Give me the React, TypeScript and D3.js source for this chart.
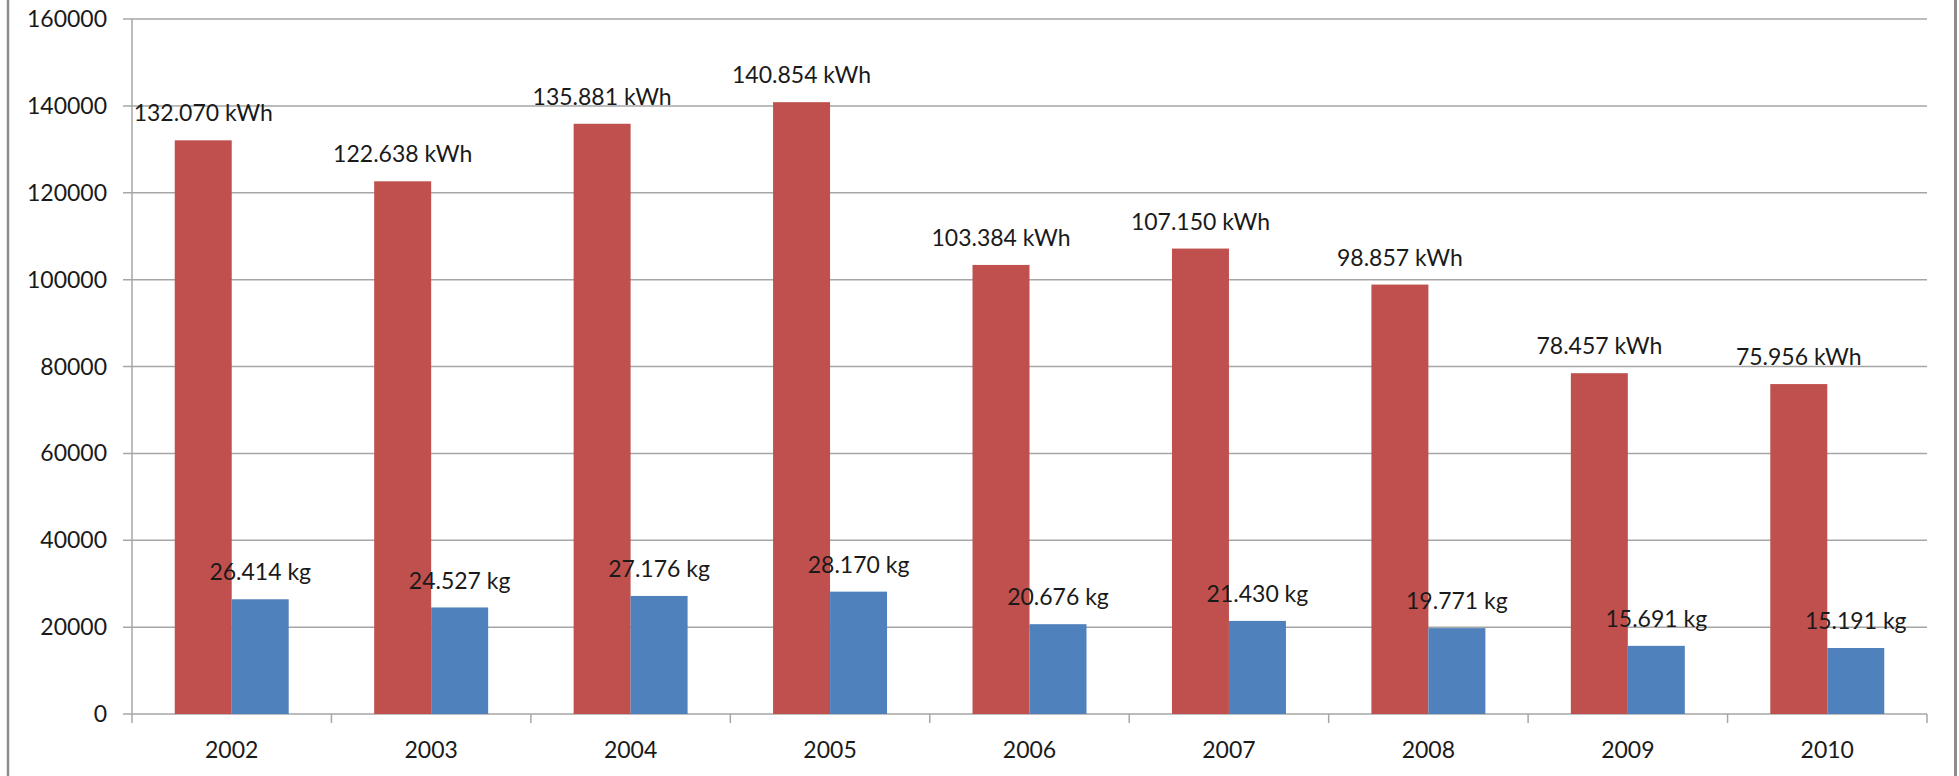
import React from "react";
import * as d3 from "d3";

const years = ["2002", "2003", "2004", "2005", "2006", "2007", "2008", "2009", "2010"];
const kwhValues = [132070, 122638, 135881, 140854, 103384, 107150, 98857, 78457, 75956];
const kgValues = [26414, 24527, 27176, 28170, 20676, 21430, 19771, 15691, 15191];
const kwhLabels = ["132.070 kWh", "122.638 kWh", "135.881 kWh", "140.854 kWh", "103.384 kWh", "107.150 kWh", "98.857 kWh", "78.457 kWh", "75.956 kWh"];
const kgLabels = ["26.414 kg", "24.527 kg", "27.176 kg", "28.170 kg", "20.676 kg", "21.430 kg", "19.771 kg", "15.691 kg", "15.191 kg"];
const yTicks = [0, 20000, 40000, 60000, 80000, 100000, 120000, 140000, 160000];
const seriesKeys = ["kwh", "kg"];
const seriesColors = ["#C0504D", "#4F81BD"];

const W = 1959;
const H = 776;
const left = 132;
const right = 1927;
const top = 19;
const bottom = 714;
const FONT = "Lato, 'Open Sans', sans-serif";

export default function App() {
  const x0 = d3.scaleBand<string>().domain(years).range([left, right]).padding(0);
  const bw = x0.bandwidth();
  const x1 = d3
    .scaleBand<string>()
    .domain(seriesKeys)
    .range([(bw * 0.75) / 3.5, (bw * 2.75) / 3.5])
    .padding(0);
  const y = d3.scaleLinear().domain([0, 160000]).range([bottom, top]);
  const series = [
    { key: "kwh", values: kwhValues, labels: kwhLabels, color: seriesColors[0] },
    { key: "kg", values: kgValues, labels: kgLabels, color: seriesColors[1] },
  ];
  const gridColor = "#A6A6A6";
  return (
    <svg
      width={W}
      height={H}
      style={{ position: "absolute", left: 0, top: 0, background: "#fff" }}
      fontFamily={FONT}
    >
      <rect x={0} y={0} width={W} height={H} fill="#fff" />
      {/* frame */}
      <line x1={8} x2={8} y1={0} y2={H} stroke="#8C8C8C" strokeWidth={2.5} />
      <line x1={1955.5} x2={1955.5} y1={0} y2={H} stroke="#8C8C8C" strokeWidth={3} />
      {/* gridlines and y labels */}
      {yTicks.map((t) => (
        <g key={t}>
          <line x1={left - 9} x2={right} y1={y(t)} y2={y(t)} stroke={gridColor} strokeWidth={1.5} />
          <text x={107} y={y(t)} dy="0.35em" textAnchor="end" fontSize={23} fill="#1a1a1a">
            {t}
          </text>
        </g>
      ))}
      {/* y axis */}
      <line x1={left} x2={left} y1={top} y2={bottom + 9} stroke={gridColor} strokeWidth={1.5} />
      {/* category ticks */}
      {years.map((yr) => (
        <line
          key={"t" + yr}
          x1={(x0(yr) as number) + bw}
          x2={(x0(yr) as number) + bw}
          y1={bottom}
          y2={bottom + 9}
          stroke={gridColor}
          strokeWidth={1.5}
        />
      ))}
      {/* bars */}
      {series.map((s) =>
        years.map((yr, i) => {
          const bx = (x0(yr) as number) + (x1(s.key) as number);
          return (
            <rect
              key={s.key + yr}
              x={bx}
              y={y(s.values[i])}
              width={x1.bandwidth()}
              height={bottom - y(s.values[i])}
              fill={s.color}
            />
          );
        })
      )}
      {/* data labels */}
      {series.map((s) =>
        years.map((yr, i) => {
          const cx = (x0(yr) as number) + (x1(s.key) as number) + x1.bandwidth() / 2;
          return (
            <text
              key={"l" + s.key + yr}
              x={cx}
              y={y(s.values[i]) - 27}
              dy="0.35em"
              textAnchor="middle"
              fontSize={23}
              fill="#1a1a1a"
            >
              {s.labels[i]}
            </text>
          );
        })
      )}
      {/* x labels */}
      {years.map((yr) => (
        <text
          key={"x" + yr}
          x={(x0(yr) as number) + bw / 2}
          y={750}
          dy="0.35em"
          textAnchor="middle"
          fontSize={23}
          fill="#1a1a1a"
        >
          {yr}
        </text>
      ))}
    </svg>
  );
}
